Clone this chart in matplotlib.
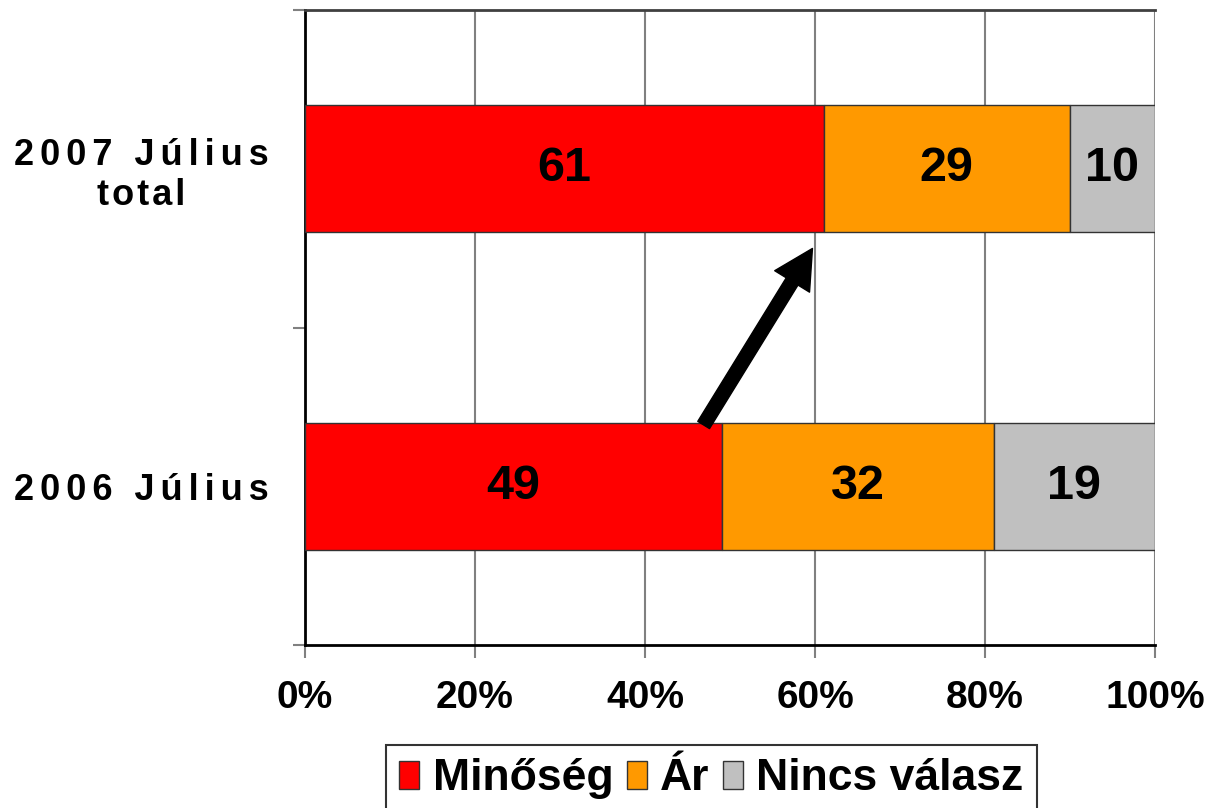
import matplotlib
matplotlib.use("Agg")
import matplotlib.pyplot as plt
from matplotlib.patches import FancyArrowPatch
from matplotlib.ticker import FixedLocator

plt.rcParams['font.family'] = ['Liberation Sans', 'DejaVu Sans']
plt.rcParams['font.weight'] = 'bold'

categories = ['2006 Július', '2007 Július\ntotal']
series_names = ['Minőség', 'Ár', 'Nincs válasz']
minoseg = [49, 61]
ar = [32, 29]
nincs = [19, 10]
colors = ['#FF0000', '#FF9900', '#C0C0C0']
xticks = [0, 20, 40, 60, 80, 100]
xticklabels = ['0%', '20%', '40%', '60%', '80%', '100%']
arrow_from = (46.9, 0.193)
arrow_to = (59.7, 0.749)

def spaced(s):
    out = []
    for ln in s.split('\n'):
        sep = '\u2006' if any(c.isdigit() for c in ln) else '\u200a'
        out.append(sep.join(list(ln)))
    return '\n'.join(out)

fig = plt.figure(figsize=(12.08, 8.08), dpi=100)
ax = fig.add_axes([305/1208, 1-645/808, 850/1208, 635/808])

ypos = list(range(len(categories)))
left = [0]*len(categories)
for vals, col, name in zip([minoseg, ar, nincs], colors, series_names):
    ax.barh(ypos, vals, left=left, height=0.4, color=col,
            edgecolor='#333333', linewidth=1.0, label=name, zorder=3)
    for y, v, l in zip(ypos, vals, left):
        ax.text(l + v/2, y, str(v), ha='center', va='center',
                fontsize=35, fontweight='bold', color='black', zorder=4)
    left = [a+b for a, b in zip(left, vals)]

ax.set_xlim(0, 100)
ax.set_ylim(-0.5, 1.5)
ax.set_xticks(xticks)
ax.set_xticklabels(xticklabels, fontsize=28, fontweight='bold')
ax.xaxis.grid(True, color='#808080', linewidth=1.5, zorder=0)
ax.set_axisbelow(True)
ax.tick_params(axis='x', direction='out', length=9, width=1.5, color='#808080', pad=16)

ax.set_yticks(ypos)
ax.set_yticklabels([spaced(c) for c in categories], fontsize=26, fontweight='bold',
                   multialignment='center')
ax.tick_params(axis='y', which='major', length=0, pad=26)
ax.yaxis.set_minor_locator(FixedLocator([-0.5, 0.5, 1.5]))
ax.tick_params(axis='y', which='minor', direction='out', length=9, width=1.5, color='#808080')

for s in ['left', 'bottom']:
    ax.spines[s].set_color('black')
    ax.spines[s].set_linewidth(2)
ax.spines['top'].set_color('#404040')
ax.spines['top'].set_linewidth(2)
ax.spines['right'].set_visible(False)

arr = FancyArrowPatch(arrow_from, arrow_to,
                      arrowstyle='simple,head_length=0.9,head_width=0.95,tail_width=0.32',
                      mutation_scale=31, color='black', shrinkA=0, shrinkB=0, zorder=5)
ax.add_patch(arr)

leg = fig.legend(loc='upper left', bbox_to_anchor=(386/1208, 1-745/808), ncol=3,
                 prop={'size': 32, 'weight': 'bold'}, frameon=True, fancybox=False,
                 handlelength=0.45, handleheight=0.6, handletextpad=0.3,
                 columnspacing=0.3, borderpad=0.3, borderaxespad=0)
leg.get_frame().set_edgecolor('black')
leg.get_frame().set_linewidth(1.5)

fig.savefig('out.png', dpi=100)
